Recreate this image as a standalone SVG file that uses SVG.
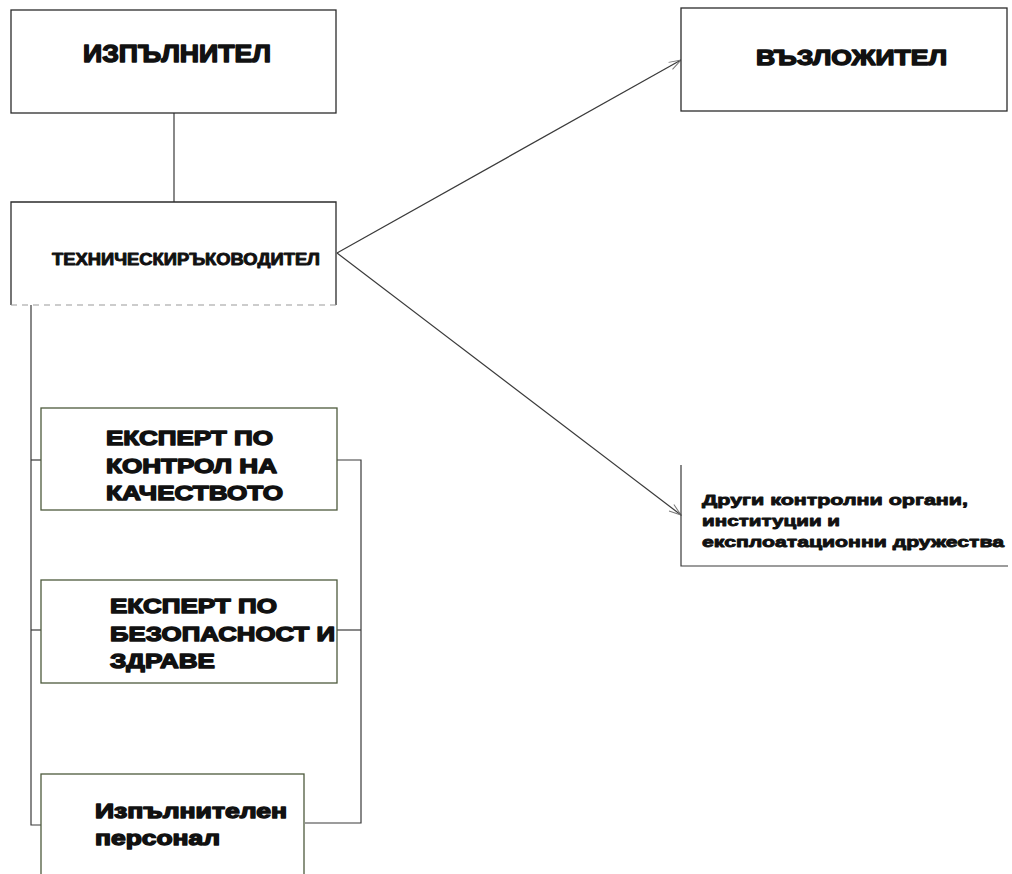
<svg xmlns="http://www.w3.org/2000/svg" width="1012" height="874" viewBox="0 0 1012 874">
<defs>
<style>
.box{fill:#fff;stroke:#2b2b2b;stroke-width:1.3}
.gbox{fill:#fff;stroke:#4d5a3c;stroke-width:1.3}
.ln{fill:none;stroke:#3a3a3a;stroke-width:1.2}
.t{font-family:"Liberation Sans",Arial,sans-serif;font-weight:bold;fill:#111;stroke:#111;stroke-width:1.4;stroke-linejoin:round}
</style>
<marker id="arr" viewBox="0 0 14 10" refX="13" refY="5" markerWidth="14" markerHeight="10" markerUnits="userSpaceOnUse" orient="auto">
<path d="M1,1 L13,5 L1,9" fill="none" stroke="#777" stroke-width="1"/>
</marker>
</defs>
<rect width="1012" height="874" fill="#fff"/>
<g id="connectors">
<line class="ln" x1="174" y1="113" x2="174" y2="202"/>
<line class="ln" x1="337" y1="253" x2="681" y2="60" marker-end="url(#arr)"/>
<line class="ln" x1="337" y1="253" x2="681" y2="515" marker-end="url(#arr)"/>
<polyline class="ln" points="31,305 31,825 41,825"/>
<line class="ln" x1="31" y1="460" x2="41" y2="460"/>
<line class="ln" x1="31" y1="630" x2="41" y2="630"/>
<polyline class="ln" points="337,460 361,460 361,823 305,823"/>
<line class="ln" x1="337" y1="630" x2="361" y2="630"/>
</g>
<g id="izpalnitel">
<rect class="box" x="11" y="10" width="325" height="103"/>
<text class="t" x="83" y="62" font-size="24" textLength="188" lengthAdjust="spacingAndGlyphs">ИЗПЪЛНИТЕЛ</text>
</g>
<g id="tehnicheski">
<path class="box" d="M11,305 L11,202 L336,202 L336,305"/>
<line x1="11" y1="305" x2="336" y2="305" stroke="#999" stroke-width="1" stroke-dasharray="6,5"/>
<text class="t" x="52" y="265" font-size="16" textLength="268" lengthAdjust="spacingAndGlyphs" style="stroke-width:0.9">ТЕХНИЧЕСКИРЪКОВОДИТЕЛ</text>
</g>
<g id="vazlozhitel">
<rect class="box" x="681" y="8" width="326" height="103"/>
<text class="t" x="756" y="65" font-size="22" textLength="191" lengthAdjust="spacingAndGlyphs">ВЪЗЛОЖИТЕЛ</text>
</g>
<g id="drugi">
<polyline class="ln" points="681,465 681,566 1008,566"/>
<text class="t" font-size="15.5" style="stroke-width:0.9"><tspan x="702" y="505" textLength="266" lengthAdjust="spacingAndGlyphs">Други контролни органи,</tspan><tspan x="702" y="526" textLength="138" lengthAdjust="spacingAndGlyphs">институции и</tspan><tspan x="702" y="547" textLength="302" lengthAdjust="spacingAndGlyphs">експлоатационни дружества</tspan></text>
</g>
<g id="ekspert-kachestvo">
<rect class="gbox" x="41" y="408" width="296" height="102"/>
<text class="t" font-size="21"><tspan x="106" y="445" textLength="167" lengthAdjust="spacingAndGlyphs">ЕКСПЕРТ ПО</tspan><tspan x="106" y="473" textLength="171" lengthAdjust="spacingAndGlyphs">КОНТРОЛ НА</tspan><tspan x="106" y="500" textLength="177" lengthAdjust="spacingAndGlyphs">КАЧЕСТВОТО</tspan></text>
</g>
<g id="ekspert-bezopasnost">
<rect class="gbox" x="41" y="580" width="296" height="103"/>
<text class="t" font-size="21"><tspan x="110" y="613" textLength="167" lengthAdjust="spacingAndGlyphs">ЕКСПЕРТ ПО</tspan><tspan x="110" y="641" textLength="225" lengthAdjust="spacingAndGlyphs">БЕЗОПАСНОСТ И</tspan><tspan x="110" y="668" textLength="105" lengthAdjust="spacingAndGlyphs">ЗДРАВЕ</tspan></text>
</g>
<g id="personal">
<rect class="gbox" x="41" y="774" width="263" height="105"/>
<text class="t" font-size="21"><tspan x="95" y="818" textLength="192" lengthAdjust="spacingAndGlyphs">Изпълнителен</tspan><tspan x="95" y="845" textLength="125" lengthAdjust="spacingAndGlyphs">персонал</tspan></text>
</g>
</svg>
